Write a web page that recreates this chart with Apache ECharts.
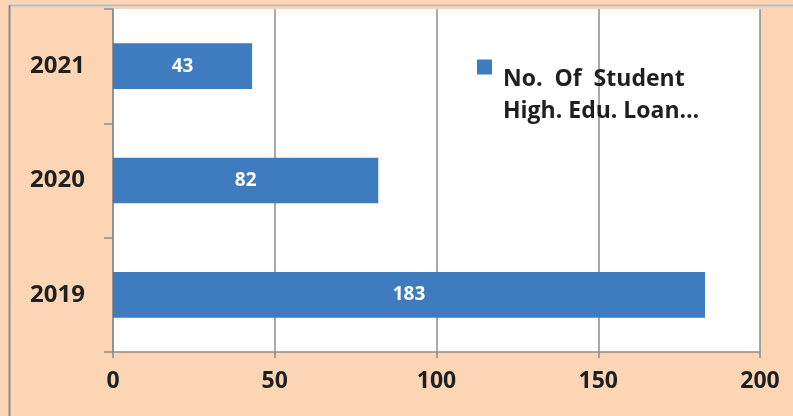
<!DOCTYPE html>
<html><head><meta charset="utf-8">
<script src="https://cdn.jsdelivr.net/npm/echarts@6/dist/echarts.min.js"></script>
<style>html,body{margin:0;padding:0;background:#FCD5B4;}#c{width:793px;height:416px;}</style>
</head><body><div id="c"></div>
<script>
const categories = ['2019', '2020', '2021'];
const values = [183, 82, 43];
const seriesName = 'No.  Of  Student\nHigh. Edu. Loan…';
const xTicks = [0, 50, 100, 150, 200];

const chart = echarts.init(document.getElementById('c'), null, {renderer: 'canvas'});
const FONT = 'Open Sans';
chart.setOption({
  backgroundColor: '#FCD5B4',
  animation: false,
  graphic: [
    {type: 'rect', shape: {x: 113, y: 9, width: 647, height: 343}, style: {fill: '#FFFFFF'}, z: -1, silent: true},
    {type: 'line', shape: {x1: 9.5, y1: 5.5, x2: 793, y2: 5.5}, style: {stroke: '#BDBDBD', lineWidth: 2}},
    {type: 'line', shape: {x1: 9.5, y1: 5, x2: 9.5, y2: 416}, style: {stroke: '#8C8C8C', lineWidth: 2}}
  ],
  grid: {left: 113, right: 33, top: 9, bottom: 64, containLabel: false},
  legend: {
    left: 477, top: 7, orient: 'vertical', padding: 0,
    icon: 'rect', itemWidth: 15, itemHeight: 15, itemGap: 11,
    formatter: function (name) {
      return '{s| }\n' + name.split('\n').map(function (l) { return '{a|' + l + '}'; }).join('\n');
    },
    textStyle: {
      fontFamily: FONT, fontWeight: 'bold', fontSize: 23, color: '#1F1F1F', lineHeight: 32,
      rich: {
        s: {fontSize: 1, lineHeight: 56},
        a: {fontFamily: FONT, fontWeight: 'bold', fontSize: 23, lineHeight: 32, color: '#1F1F1F', padding: [0, 0, 0, 6]}
      }
    }
  },
  xAxis: {
    type: 'value', min: xTicks[0], max: xTicks[xTicks.length - 1], interval: 50,
    axisLine: {show: true, lineStyle: {color: '#8C8C8C', width: 1.5}},
    axisTick: {show: true, length: 6, lineStyle: {color: '#8C8C8C', width: 1.5}},
    splitLine: {show: true, lineStyle: {color: '#8C8C8C', width: 1.5}},
    axisLabel: {margin: 18, fontFamily: FONT, fontWeight: 'bold', fontSize: 23, color: '#1F1F1F'}
  },
  yAxis: {
    type: 'category', data: categories,
    axisLine: {show: true, lineStyle: {color: '#8C8C8C', width: 1.5}},
    axisTick: {show: true, length: 9, lineStyle: {color: '#8C8C8C', width: 1.5}},
    axisLabel: {margin: 28, fontFamily: FONT, fontWeight: 'bold', fontSize: 24, color: '#1F1F1F'}
  },
  series: [{
    type: 'bar', name: seriesName, data: values, barWidth: '40%',
    itemStyle: {color: '#3F7CBF'},
    label: {show: true, position: 'inside', color: '#FFFFFF', fontFamily: FONT, fontWeight: 'bold', fontSize: 19}
  }]
});
</script></body></html>
